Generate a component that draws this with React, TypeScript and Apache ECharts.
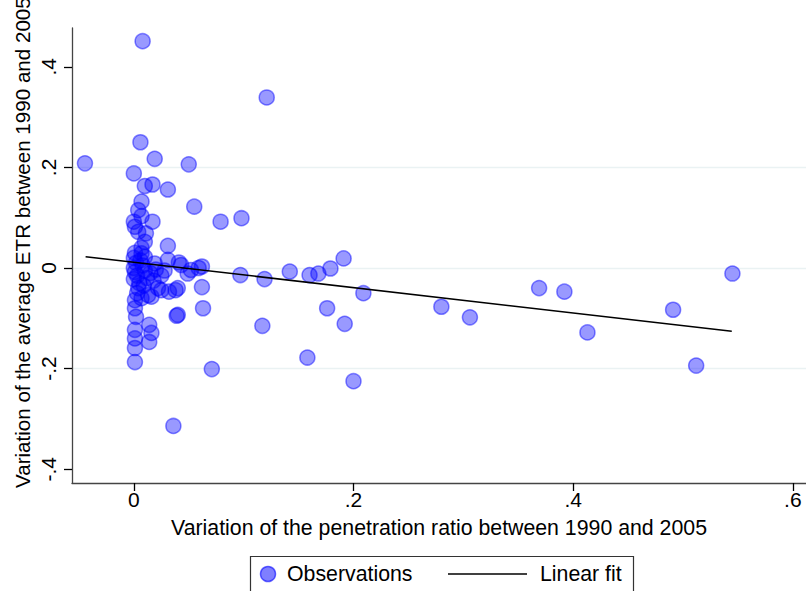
import React, { useEffect, useRef } from 'react';
import * as echarts from 'echarts';

const obsX = [
  0.008, 0.121, -0.0445, 0.006, 0.019, 0.05, 0.0, 0.01, 0.017, 0.031,
  0.007, 0.055, 0.004, 0.007, 0.079, 0.098, 0.017, 0.0, 0.001, 0.004,
  0.011, 0.01, 0.031, 0.007, 0.031, 0.019, 0.041, 0.062, 0.059, 0.043,
  0.052, 0.049, 0.097, 0.119, 0.142, 0.16, 0.168, 0.179, 0.191, 0.209,
  0.176, 0.192, 0.117, 0.28, 0.306, 0.158, 0.2, 0.369, 0.392, 0.413,
  0.491, 0.545, 0.512, 0.071, 0.036, 0.04, 0.039, 0.063, 0.062, 0.04,
  0.032, 0.025, 0.022, 0.016, 0.007, 0.001, 0.002, 0.014, 0.001, 0.016,
  0.001, 0.014, 0.001, 0.001, 0.038, 0.013, 0.001,
  0.0, 0.002, 0.0, 0.001, 0.003, 0.0, 0.005, 0.008, 0.01, 0.012,
  0.006, 0.015, 0.02, 0.004, 0.009, 0.018, 0.025, 0.028, 0.001, 0.007,
  0.003, 0.01,
];
const obsY = [
  0.451, 0.339, 0.208, 0.25, 0.217, 0.206, 0.188, 0.163, 0.166, 0.156,
  0.132, 0.122, 0.115, 0.103, 0.092, 0.099, 0.092, 0.092, 0.082, 0.072,
  0.069, 0.052, 0.044, 0.029, 0.016, 0.009, 0.011, 0.003, 0.0, 0.006,
  -0.004, -0.011, -0.014, -0.022, -0.007, -0.014, -0.011, -0.001, 0.019, -0.05,
  -0.08, -0.111, -0.115, -0.077, -0.098, -0.178, -0.225, -0.04, -0.047, -0.128,
  -0.083, -0.011, -0.194, -0.201, -0.314, -0.093, -0.095, -0.08, -0.038, -0.04,
  -0.047, -0.044, -0.04, -0.057, -0.06, -0.08, -0.097, -0.113, -0.123, -0.129,
  -0.14, -0.147, -0.159, -0.187, -0.044, -0.054, -0.064,
  0.02, 0.01, 0.0, -0.008, -0.015, -0.022, -0.03, 0.005, -0.005, -0.02,
  0.015, -0.01, -0.003, -0.04, -0.035, -0.025, -0.015, -0.005, 0.03, 0.04,
  -0.05, 0.022,
];
const fitX = [-0.0439, 0.5444];
const fitY = [0.0225, -0.1258];
const xTicks = [0, 0.2, 0.4, 0.6];
const yTicks = [-0.4, -0.2, 0, 0.2, 0.4];
const xTitle = 'Variation of the penetration ratio between 1990 and 2005';
const yTitle = 'Variation of the average ETR between 1990 and 2005';
const legendNames = ['Observations', 'Linear fit'];

const FONT = '"Liberation Sans", Arial, Helvetica, sans-serif';
const FS = 21.3;
const fmt = (v: number) => {
  if (Math.abs(v) < 1e-9) return '0';
  return v.toFixed(1).replace('0.', '.');
};

export default function App() {
  const ref = useRef<HTMLDivElement>(null);
  useEffect(() => {
    if (!ref.current) return;
    const chart = echarts.init(ref.current, null, { renderer: 'svg' });
    const fill = 'rgba(0,0,255,0.5)';
    const stroke = 'rgba(0,0,255,0.6)';
    const legendY = 574;
    chart.setOption({
      animation: false,
      backgroundColor: '#fff',
      grid: { left: 72, top: 28, width: 740, height: 455, containLabel: false },
      xAxis: {
        type: 'value',
        min: -0.0563,
        max: 0.612,
        axisLine: { show: true, onZero: false, lineStyle: { color: '#444', width: 1.3 } },
        axisTick: { show: true, customValues: xTicks, length: 8, lineStyle: { color: '#000', width: 1.3 } },
        axisLabel: { customValues: xTicks, formatter: fmt, margin: 6, fontSize: 21, color: '#000', fontFamily: FONT },
        splitLine: { show: false },
        name: xTitle,
        nameLocation: 'middle',
        nameGap: 34,
        nameTextStyle: { fontSize: FS, color: '#000', fontFamily: FONT },
      },
      yAxis: {
        type: 'value',
        min: -0.4274,
        max: 0.4771,
        axisLine: { show: true, onZero: false, lineStyle: { color: '#444', width: 1.3 } },
        axisTick: { show: true, customValues: yTicks, length: 8, lineStyle: { color: '#000', width: 1.3 } },
        axisLabel: { customValues: yTicks, formatter: fmt, rotate: 90, margin: 13, fontSize: 21, color: '#000', fontFamily: FONT },
        splitLine: { show: true, showMinLine: false, showMaxLine: false, lineStyle: { color: '#eaf2f3', width: 1.3 } },
      },
      graphic: [
        {
          type: 'text',
          x: 22,
          y: 488,
          rotation: Math.PI / 2,
          style: { text: yTitle, fontSize: 20.6, fontFamily: FONT, fill: '#000', align: 'left', verticalAlign: 'middle' },
        },
        {
          type: 'rect',
          shape: { x: 250.5, y: 556.5, width: 383, height: 50 },
          style: { fill: '#fff', stroke: '#333', lineWidth: 1.2 },
        },
        {
          type: 'circle',
          shape: { cx: 268, cy: legendY, r: 7.5 },
          style: { fill: fill, stroke: stroke, lineWidth: 1.5 },
        },
        {
          type: 'text',
          x: 287,
          y: legendY,
          style: { text: legendNames[0], fontSize: FS, fontFamily: FONT, fill: '#000', align: 'left', verticalAlign: 'middle' },
        },
        {
          type: 'line',
          shape: { x1: 448, y1: legendY, x2: 527, y2: legendY },
          style: { stroke: '#000', lineWidth: 1.5 },
        },
        {
          type: 'text',
          x: 540,
          y: legendY,
          style: { text: legendNames[1], fontSize: FS, fontFamily: FONT, fill: '#000', align: 'left', verticalAlign: 'middle' },
        },
      ],
      series: [
        {
          name: legendNames[0],
          type: 'scatter',
          data: obsX.map((x, i) => [x, obsY[i]]),
          symbol: 'circle',
          symbolSize: 15,
          itemStyle: { color: fill, borderColor: stroke, borderWidth: 1.5 },
        },
        {
          name: legendNames[1],
          type: 'line',
          data: fitX.map((x, i) => [x, fitY[i]]),
          symbol: 'none',
          lineStyle: { color: '#000', width: 1.5 },
          z: 5,
        },
      ],
    });
    return () => chart.dispose();
  }, []);
  return <div ref={ref} style={{ position: 'absolute', left: 0, top: 0, width: 806, height: 591 }} />;
}
